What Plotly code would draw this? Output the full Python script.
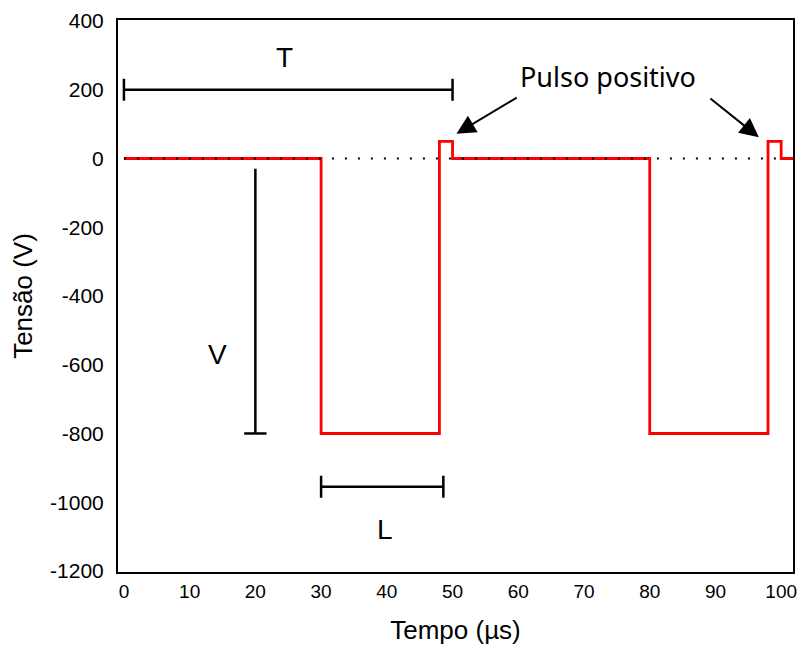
import plotly.graph_objects as go

# pulse waveform (time in us, voltage in V)
tempo = [0, 30, 30, 48, 48, 50, 50, 80, 80, 98, 98, 100, 100, 101.8]
tensao = [0, 0, -800, -800, 50, 50, 0, 0, -800, -800, 50, 50, 0, 0]

# reference zero line
zero_x = [0, 100]
zero_y = [0, 0]

# dimension markers
T_x = [0, 50]
T_y = 200
V_x = 20
V_y = [-30, -800]
L_x = [30, 48.6]
L_y = -955

x_ticks = [0, 10, 20, 30, 40, 50, 60, 70, 80, 90, 100]
y_ticks = [400, 200, 0, -200, -400, -600, -800, -1000, -1200]
y_labels = [str(v) for v in y_ticks]  # plain hyphen, like the original

FONT = "Liberation Sans, Arial, sans-serif"

fig = go.Figure()

fig.add_trace(go.Scatter(x=tempo, y=tensao, mode="lines",
                         line=dict(color="#ff0000", width=2.8)))
# dots drawn on top of the red line
fig.add_trace(go.Scatter(x=zero_x, y=zero_y, mode="lines",
                         line=dict(color="black", width=2, dash="2px,11px")))

blk = dict(color="black", width=2.5)
# T bracket
fig.add_trace(go.Scatter(x=T_x, y=[T_y, T_y], mode="lines", line=blk))
for xx in T_x:
    fig.add_trace(go.Scatter(x=[xx, xx], y=[T_y - 32, T_y + 32], mode="lines", line=blk))
# V bracket
fig.add_trace(go.Scatter(x=[V_x, V_x], y=V_y, mode="lines", line=blk))
fig.add_trace(go.Scatter(x=[V_x - 1.7, V_x + 1.7], y=[V_y[1], V_y[1]], mode="lines", line=blk))
# L bracket
fig.add_trace(go.Scatter(x=L_x, y=[L_y, L_y], mode="lines", line=blk))
for xx in L_x:
    fig.add_trace(go.Scatter(x=[xx, xx], y=[L_y - 32, L_y + 32], mode="lines", line=blk))

lab = dict(family=FONT, size=28, color="black")
fig.add_annotation(x=24.4, y=295, text="T", showarrow=False, font=lab)
fig.add_annotation(x=14.2, y=-570, text="V", showarrow=False, font=lab)
fig.add_annotation(x=39.7, y=-1078, text="L", showarrow=False, font=lab)
fig.add_annotation(x=73.6, y=238, text="Pulso positivo", showarrow=False,
                   font=dict(family="Noto Sans, Open Sans, sans-serif", size=27, color="black"))
for hx, hy, tx, ty in [(50.6, 72, 60, 180), (96.6, 62, 89, 178)]:
    fig.add_annotation(x=hx, y=hy, ax=tx, ay=ty, axref="x", ayref="y",
                       text="", showarrow=True, arrowhead=2, arrowsize=1.9,
                       arrowwidth=2, arrowcolor="black")

fig.update_layout(
    width=801, height=648,
    margin=dict(l=118, r=4, t=20, b=76),
    plot_bgcolor="white", paper_bgcolor="white",
    showlegend=False,
    font=dict(family=FONT, size=21, color="black"),
)
fig.update_xaxes(range=[-0.9, 101.8], tickvals=x_ticks, showgrid=False, zeroline=False,
                 showline=True, linecolor="black", linewidth=2, mirror=True,
                 ticks="outside", ticklen=0, ticklabelstandoff=1,
                 ticklabeloverflow="allow", tickfont=dict(size=19),
                 title=dict(text="Tempo (µs)", font=dict(size=26), standoff=20))
fig.update_yaxes(range=[-1203, 403], tickvals=y_ticks, ticktext=y_labels,
                 showgrid=False, zeroline=False,
                 showline=True, linecolor="black", linewidth=2, mirror=True,
                 ticks="outside", ticklen=0, ticklabelstandoff=8,
                 title=dict(text="Tensão (V)", font=dict(size=26), standoff=10))

# drop the default page margin so the figure fills the window exactly
fig.write_html("out.html", config={"displayModeBar": False},
               post_script="document.body.style.margin='0';document.body.style.overflow='hidden';")
